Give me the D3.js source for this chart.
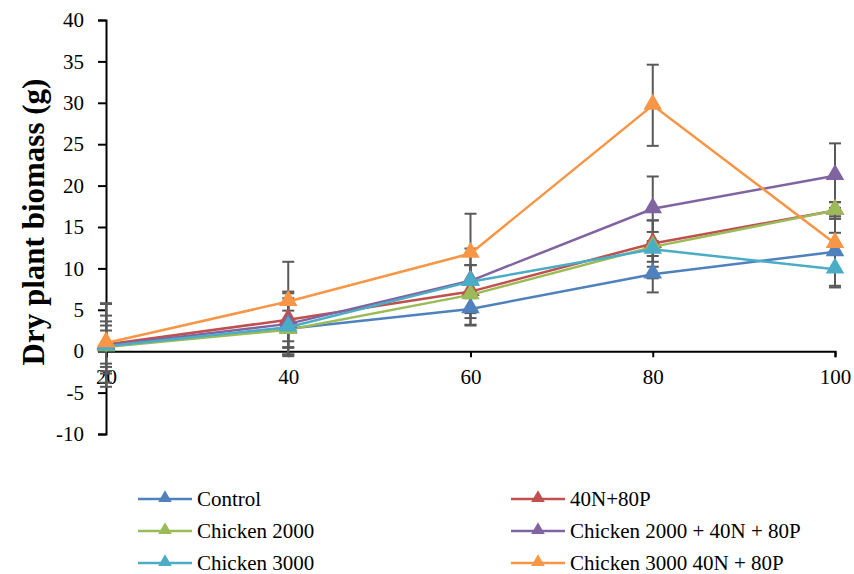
<!DOCTYPE html>
<html>
<head>
<meta charset="utf-8">
<script src="https://cdn.jsdelivr.net/npm/d3@7"></script>
<style>
  body { margin: 0; background: #fff; }
</style>
</head>
<body>
<div id="chart"></div>
<script>
// days after sowing
const days = [20, 40, 60, 80, 100];
const yTicks = [-10, -5, 0, 5, 10, 15, 20, 25, 30, 35, 40];

const seriesNames = ["Control", "40N+80P", "Chicken 2000", "Chicken 2000 + 40N + 80P", "Chicken 3000", "Chicken 3000 40N + 80P"];
const seriesColors = ["#4F81BD", "#C0504D", "#9BBB59", "#8064A2", "#4BACC6", "#F79646"];

const control     = [0.6, 2.7, 5.1, 9.3, 12.0];
const n40p80      = [0.8, 3.8, 7.2, 13.0, 17.0];
const chicken2000 = [0.5, 2.6, 6.8, 12.6, 17.0];
const chicken2000np = [0.7, 3.3, 8.5, 17.2, 21.2];
const chicken3000 = [0.6, 2.9, 8.4, 12.3, 9.9];
const chicken3000np = [1.0, 6.0, 11.8, 29.7, 13.0];

// standard errors
const controlErr     = [2.5, 2.2, 2.0, 2.2, 4.3];
const n40p80Err      = [3.5, 3.4, 3.2, 2.8, 1.0];
const chicken2000Err = [2.0, 3.0, 3.6, 1.8, 1.0];
const chicken2000npErr = [5.0, 3.7, 3.9, 3.9, 3.9];
const chicken3000Err = [3.0, 3.5, 2.0, 3.5, 2.0];
const chicken3000npErr = [4.8, 4.8, 4.8, 4.9, 1.3];

const values = [control, n40p80, chicken2000, chicken2000np, chicken3000, chicken3000np];
const errors = [controlErr, n40p80Err, chicken2000Err, chicken2000npErr, chicken3000Err, chicken3000npErr];

const serif = "Liberation Serif";

const width = 854, height = 574;
const svg = d3.select("#chart").append("svg")
  .attr("width", width).attr("height", height)
  .attr("font-family", serif);

const x = d3.scaleLinear().domain([20, 100]).range([106, 835]);
const y = d3.scaleLinear().domain([-10, 40]).range([434, 20]);

// y axis
const yAxis = svg.append("g")
  .attr("transform", `translate(${x(20)},0)`)
  .call(d3.axisLeft(y).tickValues(yTicks).tickFormat(d => String(d)).tickSize(8).tickPadding(14))
  .attr("font-family", serif);
yAxis.select(".domain").attr("stroke", "#000").attr("stroke-width", 2);
yAxis.selectAll(".tick line").attr("stroke", "#000").attr("stroke-width", 2);
yAxis.selectAll(".tick text").attr("font-size", 21).attr("fill", "#000");

// x axis along zero
const xAxis = svg.append("g")
  .attr("transform", `translate(0,${y(0)})`)
  .call(d3.axisBottom(x).tickValues(days).tickFormat(d => String(d)).tickSize(6).tickPadding(12))
  .attr("font-family", serif);
xAxis.select(".domain").attr("stroke", "#000").attr("stroke-width", 2);
xAxis.selectAll(".tick line").attr("stroke", "#000").attr("stroke-width", 2);
xAxis.selectAll(".tick text").attr("font-size", 21).attr("fill", "#000");

svg.append("text")
  .attr("transform", `translate(44,222) rotate(-90)`)
  .attr("text-anchor", "middle")
  .attr("font-size", 31).attr("font-weight", "bold")
  .text("Dry plant biomass (g)");

// error bars
const errG = svg.append("g");
values.forEach((vals, i) => {
  vals.forEach((v, j) => {
    const e = errors[i][j];
    const cx = x(days[j]);
    errG.append("line").attr("x1", cx).attr("x2", cx)
      .attr("y1", y(v - e)).attr("y2", y(v + e));
    [v - e, v + e].forEach(t => {
      errG.append("line").attr("x1", cx - 6).attr("x2", cx + 6)
        .attr("y1", y(t)).attr("y2", y(t));
    });
  });
});
errG.selectAll("line").attr("stroke", "#595959").attr("stroke-width", 2);

const line = d3.line().x((d, j) => x(days[j])).y(d => y(d));
const tri = d3.symbol().type(d3.symbolTriangle).size(150);

values.forEach((vals, i) => {
  svg.append("path").attr("d", line(vals))
    .attr("fill", "none").attr("stroke", seriesColors[i]).attr("stroke-width", 2.5);
  svg.selectAll(null).data(vals).enter().append("path")
    .attr("d", tri)
    .attr("transform", (d, j) => `translate(${x(days[j])},${y(d) - 1})`)
    .attr("fill", seriesColors[i]);
});

// legend
const legend = svg.append("g");
seriesNames.forEach((name, i) => {
  const col = i % 2, row = Math.floor(i / 2);
  const lx = col === 0 ? 138 : 511;
  const ly = 499 + row * 32;
  legend.append("line").attr("x1", lx).attr("x2", lx + 54)
    .attr("y1", ly).attr("y2", ly)
    .attr("stroke", seriesColors[i]).attr("stroke-width", 2.5);
  legend.append("path").attr("d", d3.symbol().type(d3.symbolTriangle).size(80))
    .attr("transform", `translate(${lx + 27},${ly - 1})`)
    .attr("fill", seriesColors[i]);
  legend.append("text").attr("x", lx + 59).attr("y", ly + 7)
    .attr("font-size", 21).text(name);
});
</script>
</body>
</html>
